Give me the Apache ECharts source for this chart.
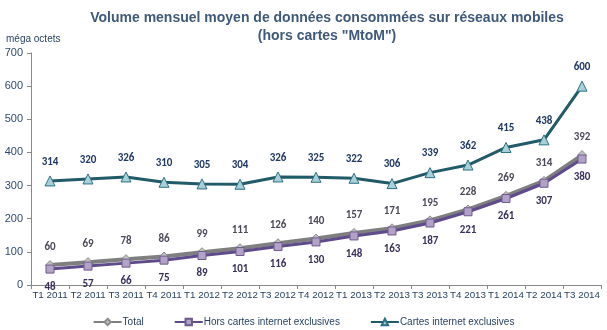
<!DOCTYPE html>
<html><head><meta charset="utf-8">
<script src="https://cdn.jsdelivr.net/npm/echarts@6/dist/echarts.min.js"></script>
<style>html,body{margin:0;padding:0;background:#fff}#c{width:607px;height:330px}</style>
</head><body><div id="c"></div>
<script>
const categories = ["T1 2011","T2 2011","T3 2011","T4 2011","T1 2012","T2 2012","T3 2012","T4 2012","T1 2013","T2 2013","T3 2013","T4 2013","T1 2014","T2 2014","T3 2014"];
const total = [60,69,78,86,99,111,126,140,157,171,195,228,269,314,392];
const horsCartes = [48,57,66,75,89,101,116,130,148,163,187,221,261,307,380];
const cartes = [314,320,326,310,305,304,326,325,322,306,339,362,415,438,600];
const yTicks = [0,100,200,300,400,500,600,700];

const chart = echarts.init(document.getElementById('c'));
const lblFont = {fontFamily:'Carlito, "Liberation Sans", Arial', fontWeight:'bold', fontSize:11};
chart.setOption({
  animation:false,
  title:{text:'Volume mensuel moyen de données consommées sur réseaux mobiles\n(hors cartes "MtoM")',left:322,top:4,textAlign:'center',
    textStyle:{fontFamily:'"Liberation Sans", Arial',fontWeight:'bold',fontSize:14,color:'#3F5978',lineHeight:18}},
  graphic:[{type:'text',left:6,top:34,style:{text:'méga octets',fontFamily:'"Liberation Sans", Arial',fontSize:10,fill:'#1F3B5C'}}],
  legend:{bottom:-2,left:'center',itemGap:30,itemWidth:28,itemHeight:8,
    textStyle:{fontFamily:'"Liberation Sans", Arial',fontSize:10,color:'#1F3B5C',padding:[0,0,0,-4]},
    data:['Total','Hors cartes internet exclusives','Cartes internet exclusives']},
  grid:{left:31,right:6,top:53,bottom:45},
  xAxis:{type:'category',data:categories,boundaryGap:true,
    axisLine:{lineStyle:{color:'#888',width:1}},
    axisTick:{show:true,interval:0,lineStyle:{color:'#888'},length:4},
    axisLabel:{interval:0,fontFamily:'"Liberation Sans", Arial',fontSize:9.8,color:'#1F3B5C',margin:5}},
  yAxis:{type:'value',min:0,max:700,interval:100,
    axisLine:{show:true,lineStyle:{color:'#888'}},
    axisTick:{show:true,lineStyle:{color:'#888'},length:4},
    splitLine:{show:false},
    axisLabel:{fontFamily:'"Liberation Sans", Arial',fontSize:11,color:'#2E4A6E',margin:8}},
  series:[
    {name:'Total',type:'line',data:total,symbol:'diamond',symbolSize:9,z:3,
      lineStyle:{color:'#7F7F7F',width:4},itemStyle:{color:'#BFBFBF',borderColor:'#8C8C8C',borderWidth:1},
      label:{show:true,position:'top',distance:7,color:'#4A4A5A',...lblFont}},
    {name:'Hors cartes internet exclusives',type:'line',data:horsCartes,symbol:'rect',symbolSize:8,z:4,
      lineStyle:{color:'#5F4B8B',width:3},itemStyle:{color:'#B3A2C7',borderColor:'#6E5A8E',borderWidth:1},
      label:{show:true,position:'bottom',distance:8,color:'#3A2F5C',...lblFont}},
    {name:'Cartes internet exclusives',type:'line',data:cartes,symbol:'triangle',symbolSize:10,z:5,
      lineStyle:{color:'#215B68',width:3},itemStyle:{color:'#A9CFDA',borderColor:'#2E7083',borderWidth:1},
      label:{show:true,position:'top',distance:8,color:'#1F3864',...lblFont}}
  ]
});
</script></body></html>
